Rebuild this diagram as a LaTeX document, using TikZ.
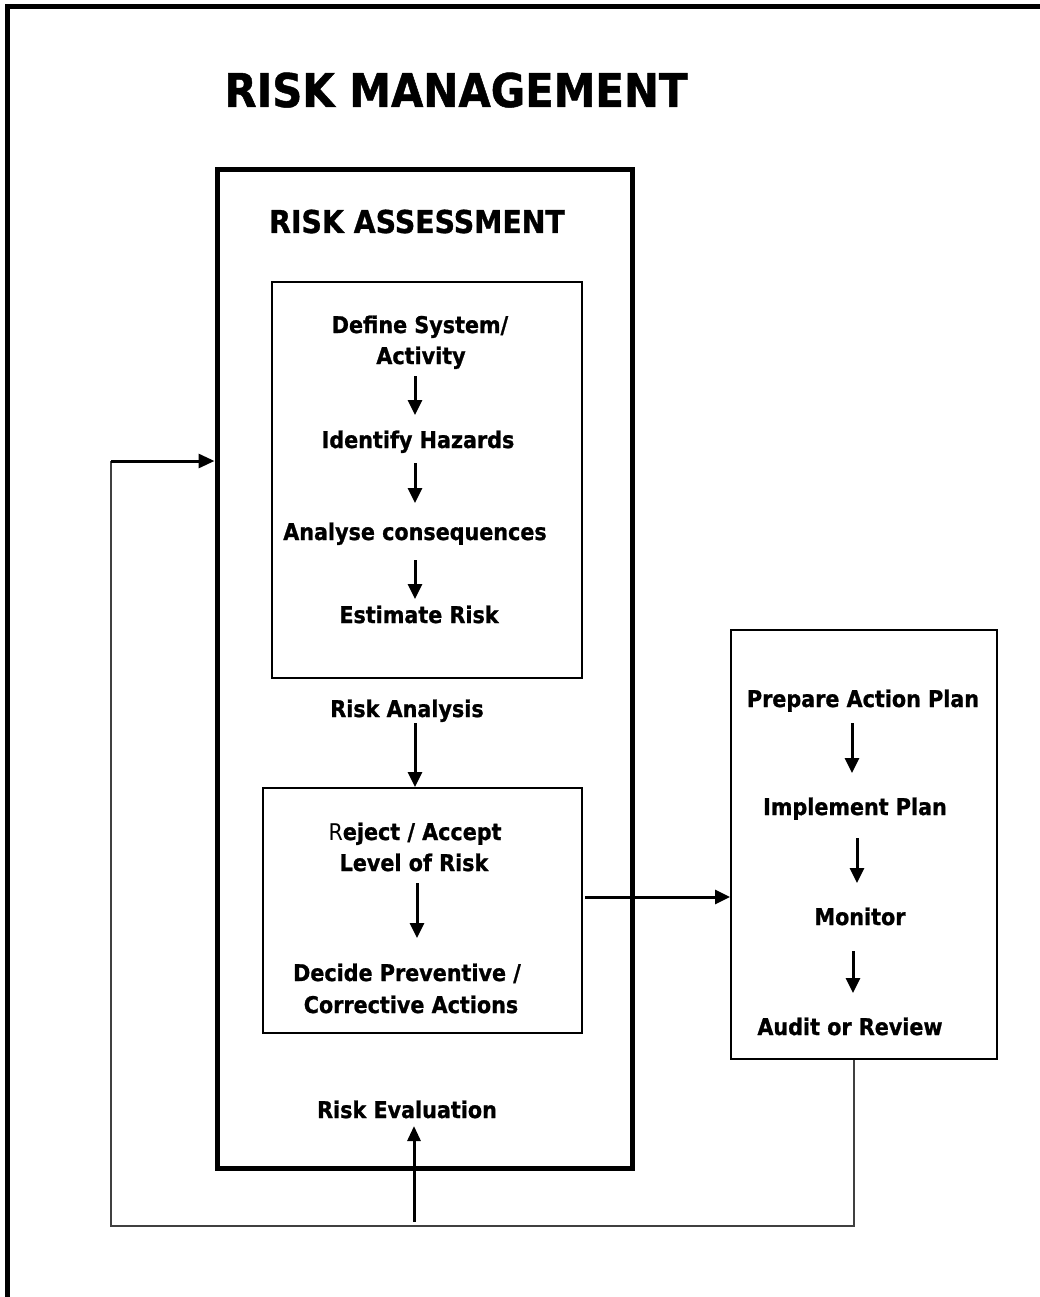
\documentclass[tikz,border=0pt]{standalone}
\usepackage{fontspec}
\setmainfont{DejaVu Sans}[FakeStretch=0.9, BoldFeatures={FakeBold=1}]
\usetikzlibrary{arrows.meta}
\begin{document}
\begin{tikzpicture}[x=1pt,y=-1pt,
  txt/.style={font=\bfseries\fontsize{23}{27}\selectfont, inner sep=0pt, anchor=base},
  ttl/.style={font=\bfseries\fontsize{46.5}{52}\selectfont, inner sep=0pt, anchor=base},
  sub/.style={font=\bfseries\fontsize{31.5}{36}\selectfont, inner sep=0pt, anchor=base},
  flow/.style={line width=3pt, -{Triangle[width=14pt,length=15pt]}},
  thinbox/.style={draw, line width=2pt},
  fb/.style={line width=1.6pt, black!75}
]
\useasboundingbox (0,0) rectangle (1039,1297);
% outer frame (cut off at right and bottom)
\draw[line width=5pt] (1045,7) -- (7,7) -- (7,1305);
% titles
\node[ttl] (title) at (456,107) {RISK MANAGEMENT};
% risk assessment box
\node[draw, line width=5pt, minimum width=415pt, minimum height=998pt, inner sep=0pt] (ra) at (424.5,669) {};
\node[sub] (ratitle) at (417,233) {RISK ASSESSMENT};
% inner box 1
\node[thinbox, minimum width=310pt, minimum height=396pt, inner sep=0pt] (b1) at (427,480) {};
\node[txt] (def1) at (420,333) {Define System/};
\node[txt] (def2) at (421,364) {Activity};
\node[txt] (ident) at (418,448) {Identify Hazards};
\node[txt] (anal) at (415,540) {Analyse consequences};
\node[txt] (est) at (419,623) {Estimate Risk};
\coordinate (a1s) at (415,376); \coordinate (a1e) at (415,415);
\coordinate (a2s) at (415,463); \coordinate (a2e) at (415,503);
\coordinate (a3s) at (415,560); \coordinate (a3e) at (415,599);
\draw[flow] (a1s) -- (a1e);
\draw[flow] (a2s) -- (a2e);
\draw[flow] (a3s) -- (a3e);
% risk analysis
\node[txt] (ranal) at (407,717) {Risk Analysis};
% inner box 2
\node[thinbox, minimum width=319pt, minimum height=245pt, inner sep=0pt] (b2) at (422,910.5) {};
\coordinate (a4s) at (415,723);
\draw[flow] (a4s) -- (a4s |- b2.north);
\node[txt] (rej1) at (415,840) {{\mdseries R}eject / Accept};
\node[txt] (rej2) at (414,871) {Level of Risk};
\coordinate (a5s) at (417,883); \coordinate (a5e) at (417,938);
\draw[flow] (a5s) -- (a5e);
\node[txt] (dec1) at (407,981) {Decide Preventive /};
\node[txt] (dec2) at (411,1013) {Corrective Actions};
% right box
\node[thinbox, minimum width=266pt, minimum height=429pt, inner sep=0pt] (b3) at (864,844.5) {};
\coordinate (a6s) at (585,897);
\draw[flow] (a6s) -- (a6s -| b3.west);
\node[txt] (prep) at (863,707) {Prepare Action Plan};
\node[txt] (impl) at (855,815) {Implement Plan};
\node[txt] (mon) at (860,925) {Monitor};
\node[txt] (aud) at (850,1035) {Audit or Review};
\coordinate (a7s) at (852,723); \coordinate (a7e) at (852,773);
\coordinate (a8s) at (857,838); \coordinate (a8e) at (857,883);
\coordinate (a9s) at (853,951); \coordinate (a9e) at (853,993);
\draw[flow] (a7s) -- (a7e);
\draw[flow] (a8s) -- (a8e);
\draw[flow] (a9s) -- (a9e);
% risk evaluation
\node[txt] (reval) at (407,1118) {Risk Evaluation};
% feedback loop
\coordinate (fbr) at (854,1226);
\coordinate (fbl) at (111,1226);
\coordinate (fbt) at (111,461);
\draw[fb] (b3.south -| fbr) -- (fbr) -- (fbl) -- (fbt);
\draw[line width=3pt, -{Triangle[width=14pt,length=16pt]}] (fbt) -- (fbt -| ra.west);
\coordinate (evs) at (414,1222);
\draw[line width=3pt, -{Triangle[width=13pt,length=15pt]}] (evs) -- (414,1126);
\end{tikzpicture}
\end{document}
